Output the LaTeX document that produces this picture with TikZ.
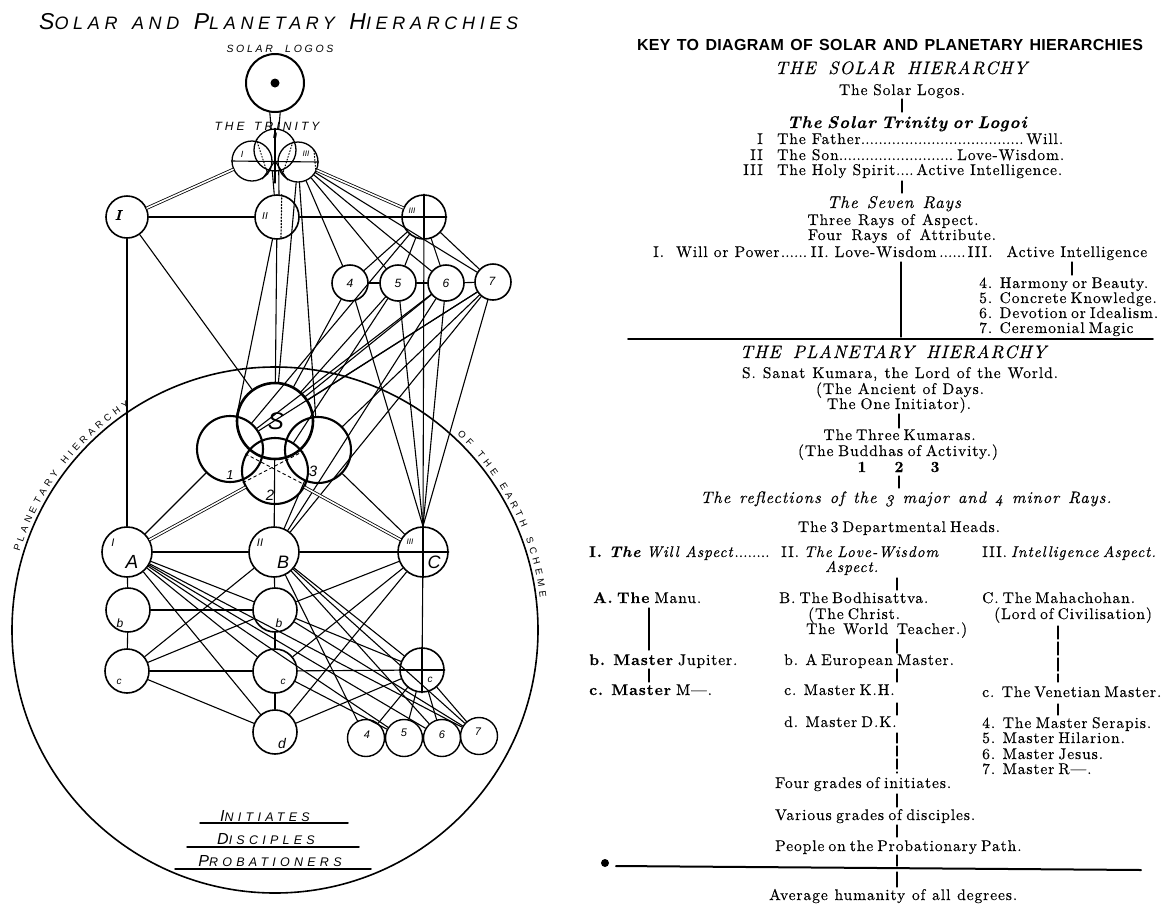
\documentclass[tikz,border=0pt]{standalone}
\usepackage{fontspec}
\usetikzlibrary{decorations.text}
\newfontfamily\keyfont{lmroman10-regular.otf}[ItalicFont=lmroman10-italic.otf,BoldFont=lmroman10-bold.otf,BoldItalicFont=lmroman10-bolditalic.otf,LetterSpace=6,FakeBold=0.35]
\newfontfamily\keysans{Liberation Sans}[LetterSpace=2]
\newfontfamily\handfont{Liberation Sans}[LetterSpace=26]
\newfontfamily\handwide{Liberation Sans}[LetterSpace=34]
\newfontfamily\lblfont{Liberation Sans}
\newcommand\kdots{\leaders\hbox to 4.4pt{\hss.\hss}\hfill}
\newcommand\hd{\fontsize{18}{18}\selectfont\itshape}
\newcommand\hds{\fontsize{17}{17}\selectfont\itshape}
\newcommand\hdb{\fontsize{17}{17}\selectfont\bfseries\itshape}
\newcommand\hdr{\fontsize{16.5}{16.5}\selectfont\itshape\addfontfeature{Numbers=OldStyle}}
\newcommand\bigc[1]{{\fontsize{23}{23}\selectfont #1}}
\newcommand\midc[1]{{\fontsize{16}{16}\selectfont #1}}
\newcommand\KL[5]{\node[kt] (#1) at (#2,-#3) {\makebox[#4pt][s]{#5}};}
\newcommand\KC[5]{\node[kt,anchor=base] (#1) at (#2,-#3) {\makebox[#4pt][s]{#5}};}
\newcommand\seg[6]{\coordinate (#1a) at (#2,-#3); \coordinate (#1b) at (#4,-#5); \draw[#6] (#1a) -- (#1b);}
\newcommand\LB[5]{\node[lbl,font=\lblfont\itshape\fontsize{#4}{#4}\selectfont] (#1) at (#2,-#3) {#5};}
\tikzset{
  ring/.style={draw, circle, inner sep=0pt, line width=1.6pt},
  kring/.style={draw, circle, inner sep=0pt, line width=2.1pt},
  conn/.style={line width=1.1pt},
  dbl/.style={double, double distance=1.6pt, line width=0.8pt},
  kt/.style={font=\keyfont\fontsize{15.5}{16}\selectfont, inner sep=0pt, anchor=base west},
  kh/.style={font=\keysans\bfseries\fontsize{16}{16}\selectfont, inner sep=0pt},
  lbl/.style={inner sep=0pt},
  hand/.style={font=\handfont\itshape, inner sep=0pt, anchor=base},
  handw/.style={font=\handwide\itshape, inner sep=0pt, anchor=base}
}
\begin{document}
\begin{tikzpicture}[x=1pt,y=1pt,line cap=round,line join=round]
\path[use as bounding box, fill=white] (0,0) rectangle (1168,-903);

% ---------------- left diagram: titles
\node[hand, anchor=base west] (title) at (39,-29) {\fontsize{18}{18}\selectfont\makebox[479pt][s]{\bigc{S}OLAR AND \bigc{P}LANETARY \bigc{H}IERARCHIES}};
\node[hand] (slt) at (280,-52) {\fontsize{10.5}{10.5}\selectfont\makebox[107pt][s]{SOLAR LOGOS}};
\node[hand] (ttt) at (267,-130) {\fontsize{12}{12}\selectfont\makebox[105pt][s]{THE TRINITY}};

% ---------------- circles
\node[ring, line width=2pt, minimum size=58pt] (logos) at (275,-83) {};
\node[circle, fill, inner sep=0pt, minimum size=9pt] (ldot) at (275,-83) {};
\node[ring, line width=1.3pt, minimum size=40pt] (tI) at (252,-161) {};
\node[ring, line width=1.3pt, minimum size=42pt] (tII) at (275,-150) {};
\node[ring, line width=1.3pt, minimum size=40pt] (tIII) at (298,-162) {};
\node[ring, minimum size=42pt] (rI) at (127,-217) {};
\node[ring, minimum size=44pt] (rII) at (277,-217) {};
\node[ring, minimum size=44pt] (rIII) at (424,-217) {};
\node[ring, minimum size=36pt] (r4) at (350,-283) {};
\node[ring, minimum size=36pt] (r5) at (398,-283) {};
\node[ring, minimum size=36pt] (r6) at (446,-283) {};
\node[ring, minimum size=36pt] (r7) at (493,-282) {};
\node[ring, minimum size=526pt] (earth) at (275,-630) {};
\node[ring, line width=2.6pt, minimum size=76pt] (S) at (275,-421) {};
\node[kring, minimum size=66pt] (k1) at (230,-449) {};
\node[kring, minimum size=66pt] (k3) at (318,-450) {};
\node[kring, minimum size=66pt] (k2) at (275,-471) {};
\node[ring, minimum size=50pt] (A) at (127,-552) {};
\node[ring, minimum size=50pt] (B) at (274,-552) {};
\node[ring, minimum size=50pt] (C) at (423,-552) {};
\node[ring, minimum size=44pt] (Ab) at (128,-610) {};
\node[ring, minimum size=44pt] (Bb) at (275,-610) {};
\node[ring, minimum size=44pt] (Ac) at (127,-671) {};
\node[ring, minimum size=44pt] (Bc) at (275,-671) {};
\node[ring, minimum size=44pt] (Cc) at (422,-670) {};
\node[ring, minimum size=44pt] (Bd) at (275,-732) {};
\node[ring, line width=1.4pt, minimum size=37pt] (m4) at (366,-738) {};
\node[ring, line width=1.4pt, minimum size=37pt] (m5) at (404,-738) {};
\node[ring, line width=1.4pt, minimum size=37pt] (m6) at (442,-738) {};
\node[ring, line width=1.4pt, minimum size=37pt] (m7) at (479,-736) {};

% ---------------- arc texts
\path[decorate, decoration={text along path, text={|\lblfont\fontsize{9.5}{9.5}\selectfont|PLANETARY HIERARCHY}, text align=fit to path}]
  (earth.center) ++(163:267) arc[start angle=163, end angle=123, radius=267];
\path[decorate, decoration={text along path, text={|\lblfont\fontsize{9.5}{9.5}\selectfont|OF THE EARTH SCHEME}, text align=fit to path}]
  (earth.center) ++(47:267) arc[start angle=47, end angle=7, radius=267];

% ---------------- solar connectors
\draw[conn] (logos.-100) -- (tII.100);
\draw[conn] (logos.-80) -- (tII.80);
\coordinate (tctr) at (275,-161);
\coordinate (tbot) at (275,-183);
\draw[conn] (tI.180) -- (tIII.0);
\draw[conn] (tII.90) -- (tbot);
\draw[conn] (tctr) -- (tIII.-120);
\draw[conn] (tctr) -- (tI.-60);
\draw[dotted, line width=1pt] (tII.150) -- (tI.-40);
\draw[dotted, line width=1pt] (tII.30) -- (tIII.-140);
\draw[dotted, line width=1pt] (tIII.-30) -- (tIII.40);
\draw[conn] (tII.-97) -- (rII.97);
\draw[conn] (tII.-80) -- (rII.85);
\draw[dbl] (tI) -- (rI);
\draw[dbl] (tIII) -- (rIII);
\draw[conn] (rI) -- (rII);
\draw[conn] (rII) -- (rIII);
\draw[conn] (rIII.west) -- (rIII.east);
\draw[conn] (rIII.north) -- (rIII.south);
\draw[dotted, line width=1.2pt] (rII.78) -- (rII.-80);
\foreach \n in {r4,r5,r6,r7} {
  \draw[conn] (tIII) -- (\n);
  \draw[conn] (rIII) -- (\n);
  \draw[conn] (\n) -- (C.north);
}
\draw[conn] (r4) -- (r5);
\draw[conn] (r5) -- (r6);
\draw[conn] (r6) -- (r7);
\draw[conn] (rIII) -- (C.north);
\draw[conn] (rI) -- (A);
\draw[conn] (rI) -- (S);
\draw[conn] (rII) -- (S);
\draw[conn] (rII) -- (k1);
\draw[conn] (tIII) -- (S);
\draw[conn] (tIII) -- (k3);
\draw[conn] (rIII) -- (k1);
\draw[conn] (r4) -- (S);
\draw[conn] (r5) -- (S);
\draw[conn] (r5) -- (k2);
\draw[conn] (r6) -- (k1);
\draw[conn] (r6) -- (S);
\draw[conn] (r6) -- (B);
\draw[conn] (r7) -- (k1);
\draw[conn] (r7) -- (S);
\draw[conn] (r7) -- (k3);
\draw[conn] (r7) -- (B);

% ---------------- planetary connectors
\draw[dashed, line width=0.9pt] (k2.-160) -- (k2.35);
\draw[dashed, line width=0.9pt] (k2.150) -- (k2.-25);
\draw[conn] (k1) -- (A);
\draw[dbl] (k2) -- (A);
\draw[dbl] (k2) -- (C);
\draw[conn] (k3) -- (C);
\draw[conn] (S) -- (B);
\draw[conn] (k3) -- (B);
\draw[conn] (A) -- (B);
\draw[conn] (B) -- (C);
\draw[conn] (A) -- (Ab);
\draw[conn] (Ab) -- (Ac);
\draw[conn] (B) -- (Bb);
\draw[conn] (Bb) -- (Bc);
\draw[conn] (Bc) -- (Bd);
\draw[conn] (C) -- (Cc);
\draw[conn] (Ab) -- (Bb);
\draw[conn] (Ac) -- (Bc);
\draw[conn] (Bc) -- (Cc);
\draw[conn] (C.west) -- (C.east);
\draw[conn] (C.north) -- (C.south);
\draw[conn] (Cc.west) -- (Cc.east);
\draw[conn] (Cc.north) -- (Cc.south);
\foreach \n in {Bb,Bc,Bd,m5,m6,m7} { \draw[conn] (A) -- (\n); }
\foreach \n in {Ac,Cc,m4,m6,m7} { \draw[conn] (B) -- (\n); }
\foreach \n in {Bb,Bc,Bd} { \draw[conn] (C) -- (\n); }
\draw[conn] (Bb) -- (Ac);
\draw[conn] (Bb) -- (Cc);
\draw[conn] (Bb) -- (m7);
\draw[conn] (Bd) -- (Ac);
\draw[conn] (Bd) -- (Cc);
\draw[conn] (Bc) -- (m5);
\foreach \n in {m4,m5,m6,m7} { \draw[conn] (Cc) -- (\n); }

% ---------------- circle labels
\LB{lt1}{242}{154}{9}{I}
\LB{lt2}{275}{136}{8}{II}
\LB{lt3}{306}{154}{8}{III}
\node[lbl, font=\keyfont\bfseries\itshape\fontsize{14}{14}\selectfont] (lr1) at (118,-215) {I};
\LB{lr2}{265}{216}{10}{II}
\LB{lr3}{412}{211}{8}{III}
\LB{l4}{350}{283}{12}{4}
\LB{l5}{398}{283}{12}{5}
\LB{l6}{446}{283}{12}{6}
\LB{l7}{492}{281}{12}{7}
\LB{lS}{276}{421}{24}{S}
\LB{lk1}{230}{475}{13}{1}
\LB{lk2}{270}{495}{15}{2}
\LB{lk3}{313}{471}{15}{3}
\LB{lA1}{113}{543}{11}{I}
\LB{lA2}{132}{562}{19}{A}
\LB{lB1}{260}{543}{11}{II}
\LB{lB2}{283}{562}{18}{B}
\LB{lC1}{410}{542}{8}{III}
\LB{lC2}{434}{562}{18}{C}
\LB{lb1}{120}{623}{12}{b}
\LB{lb2}{279}{623}{12}{b}
\LB{lc1}{119}{682}{10}{c}
\LB{lc2}{283}{682}{10}{c}
\LB{lc3}{430}{680}{10}{c}
\LB{ld}{282}{743}{14}{d}
\LB{lm4}{367}{735}{11}{4}
\LB{lm5}{404}{733}{11}{5}
\LB{lm6}{442}{735}{11}{6}
\LB{lm7}{478}{732}{11}{7}

% ---------------- initiates / disciples / probationers
\node[handw] (ini) at (265,-821) {\fontsize{12.5}{12.5}\selectfont\midc{I}NITIATES};
\node[handw] (dis) at (266,-844) {\fontsize{12.5}{12.5}\selectfont\midc{D}ISCIPLES};
\node[handw] (pro) at (270,-866) {\fontsize{12.5}{12.5}\selectfont\midc{P}ROBATIONERS};
\seg{u1}{200}{823}{348}{823}{line width=1.5pt}
\seg{u2}{187}{847}{359}{847}{line width=1.5pt}
\seg{u3}{175}{869}{371}{869}{line width=1.5pt}

% ---------------- key
\node[kh, anchor=base] (hkey) at (890,-50) {\makebox[506pt][s]{KEY TO DIAGRAM OF SOLAR AND PLANETARY HIERARCHIES}};
\KC{h1}{901}{74}{252}{\hd THE SOLAR HIERARCHY}
\KC{l1}{902}{95}{126}{The Solar Logos.}
\seg{t1}{902}{99}{902}{112}{conn}
\KC{h2}{903}{128}{232}{\hdb The Solar Trinity or Logoi}
\node[kt, anchor=base east] (n1) at (763,-144) {I};
\node[kt, anchor=base east] (n2) at (763,-160) {II};
\node[kt, anchor=base east] (n3) at (763,-175) {III};
\node[kt] (f1) at (777,-144) {\hbox to 286pt{The\ Father\kdots Will.}};
\node[kt] (f2) at (777,-160) {\hbox to 287pt{The\ Son\kdots Love-Wisdom.}};
\node[kt] (f3) at (777,-175) {\hbox to 285pt{The\ Holy\ Spirit\kdots Active\ Intelligence.}};
\seg{t2}{902}{181}{902}{193}{conn}
\KC{h3}{894}{208}{134}{\hds The Seven Rays}
\KC{l2}{893}{225}{171}{Three Rays of Aspect.}
\KC{l3}{902}{240}{188}{Four Rays of Attribute.}
\node[kt] (l4) at (653,-257) {\hbox to 494pt{I.\hskip 12pt Will\ or\ Power\kdots II.\ Love-Wisdom\kdots III.\hskip 14pt Active\ Intelligence}};
\seg{t3}{901}{262}{901}{337}{conn}
\seg{t4}{1072}{262}{1072}{275}{conn}
\KL{q4}{979}{288}{169}{4. Harmony or Beauty.}
\KL{q5}{979}{303}{169}{5. Concrete Knowledge.}
\KL{q6}{979}{318}{171}{6. Devotion or Idealism.}
\KL{q7}{979}{333}{145}{7. Ceremonial Magic}
\seg{rule}{628}{339}{1153}{339}{line width=1.6pt}
\KC{h4}{893}{358}{306}{\hd THE PLANETARY HIERARCHY}
\KC{p1}{900}{378}{316}{S. Sanat Kumara, the Lord of the World.}
\KC{p2}{900}{394}{168}{(The Ancient of Days.}
\KC{p3}{899}{409}{144}{The One Initiator).}
\seg{t5}{899}{414}{899}{428}{conn}
\KC{p4}{899}{440}{151}{The Three Kumaras.}
\KC{p5}{898}{456}{200}{(The Buddhas of Activity.)}
\node[kt, anchor=base] (nk1) at (862,-472) {\bfseries 1};
\node[kt, anchor=base] (nk2) at (899,-472) {\bfseries 2};
\node[kt, anchor=base] (nk3) at (935,-472) {\bfseries 3};
\seg{t6}{899}{476}{899}{488}{conn}
\KC{p6}{906}{503}{411}{\hdr The reflections of the 3 major and 4 minor Rays.}
\KC{p7}{899}{532}{202}{The 3 Departmental Heads.}
\node[kt] (d1) at (589,-557) {\hbox to 182pt{\textbf{I.}\ {\bfseries\itshape The}\ {\itshape Will\ Aspect}\kdots}};
\KL{d2}{781}{557}{157}{II. {\itshape The Love-Wisdom}}
\KL{d3}{982}{557}{171}{III. {\itshape Intelligence Aspect.}}
\node[kt] (d4) at (825,-572) {\itshape Aspect.};
\seg{t7}{897}{578}{897}{590}{conn}
\KL{e1}{593}{603}{103}{\textbf{A. The} Manu.}
\KL{e2}{779}{603}{143}{B. The Bodhisattva.}
\KL{e3}{982}{603}{148}{C. The Mahachohan.}
\KL{e4}{808}{619}{91}{(The Christ.}
\KL{e5}{994}{619}{155}{(Lord of Civilisation)}
\KL{e6}{806}{634}{161}{The World Teacher.)}
\seg{t8}{649}{608}{649}{650}{line width=1.3pt}
\seg{t9}{897}{639}{897}{653}{conn}
\seg{t10}{1058}{626}{1058}{682}{conn, dash pattern=on 13pt off 3pt}
\KL{f4}{589}{665}{126}{\textbf{b. Master} Jupiter.}
\KL{f5}{784}{665}{169}{b. A European Master.}
\seg{t11}{649}{669}{649}{682}{conn}
\seg{t12}{897}{669}{897}{682}{conn}
\KL{g1}{589}{695}{105}{\textbf{c. Master} M—.}
\KL{g2}{784}{695}{109}{c. Master K.H.}
\KL{g3}{982}{697}{179}{c. The Venetian Master.}
\seg{t13}{897}{703}{897}{715}{conn}
\seg{t14}{1058}{704}{1058}{715}{conn}
\KL{g4}{784}{727}{109}{d. Master D.K.}
\KL{g5}{982}{728}{169}{4. The Master Serapis.}
\KL{g6}{982}{743}{139}{5. Master Hilarion.}
\KL{g7}{982}{759}{114}{6. Master Jesus.}
\KL{g8}{982}{774}{104}{7. Master R—.}
\seg{t15}{897}{733}{897}{773}{conn, dash pattern=on 10pt off 3pt}
\KL{h5}{775}{788}{176}{Four grades of initiates.}
\seg{t16}{897}{794}{897}{807}{conn}
\KL{h6}{775}{820}{200}{Various grades of disciples.}
\seg{t17}{897}{825}{897}{837}{conn}
\KL{h7}{775}{851}{246}{People on the Probationary Path.}
\seg{t18}{897}{855}{897}{866}{conn}
\node[circle, fill, inner sep=0pt, minimum size=8pt] (bdot) at (605,-863) {};
\seg{hl}{616}{866}{1141}{870}{line width=2pt}
\seg{t19}{897}{872}{897}{887}{conn}
\KL{h8}{769}{900}{248}{Average humanity of all degrees.}
\end{tikzpicture}
\end{document}
